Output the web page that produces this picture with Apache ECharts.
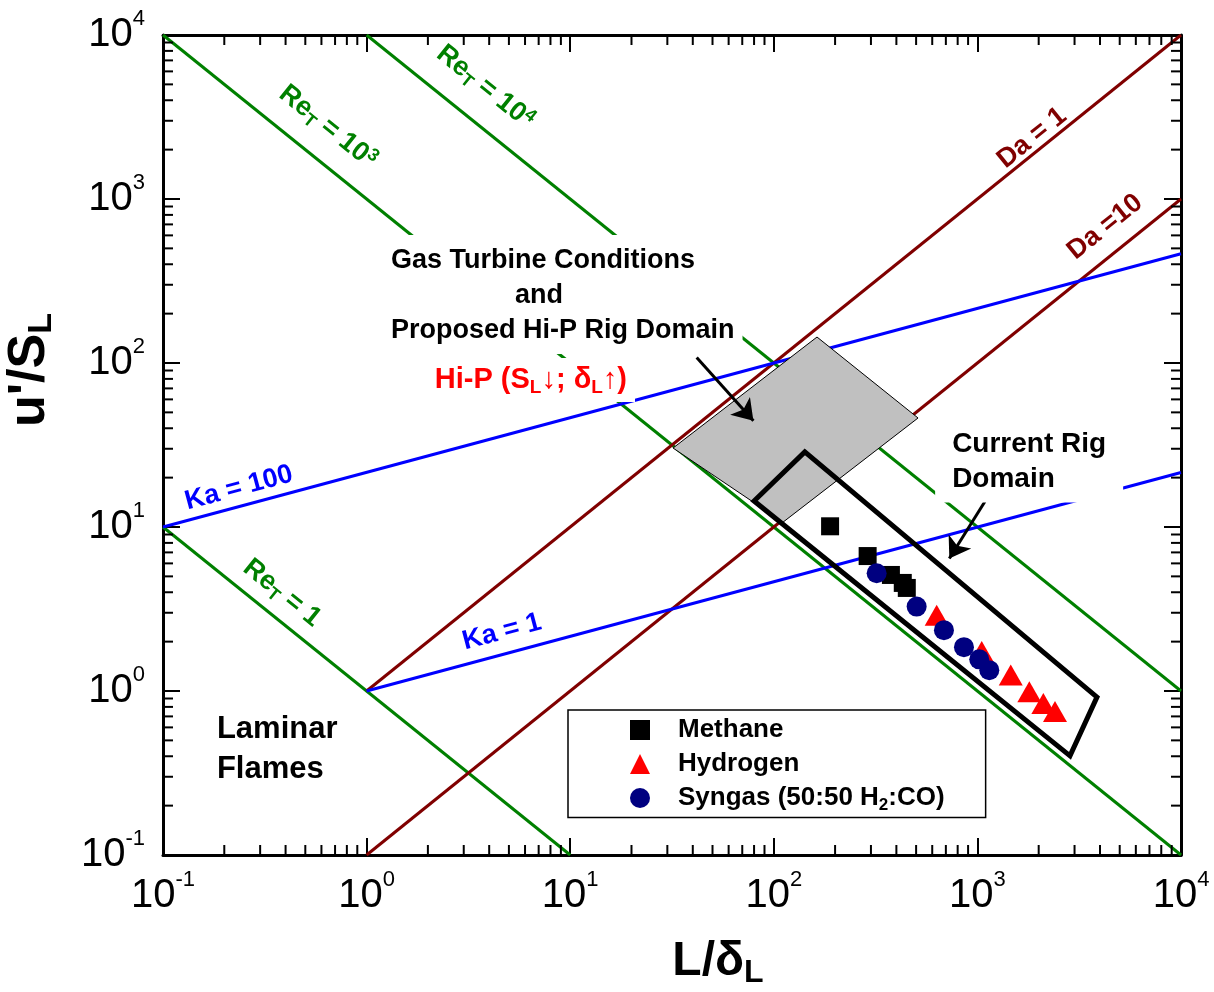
<!DOCTYPE html>
<html>
<head>
<meta charset="utf-8">
<title>Turbulent combustion regime diagram</title>
<script src="https://cdn.jsdelivr.net/npm/echarts@6/dist/echarts.min.js"></script>
<style>
  html, body { margin: 0; padding: 0; background: #fff; }
  #chart { width: 1214px; height: 992px; }
</style>
</head>
<body>
<div id="chart"></div>
<script>
// ---- data -------------------------------------------------------------
// axis decades (L/deltaL and u'/SL)
const xDecades = [0.1, 1, 10, 100, 1000, 10000];
const yDecades = [0.1, 1, 10, 100, 1000, 10000];
const minorSteps = [2, 3, 4, 5, 6, 7, 8, 9];

// regime boundaries, endpoints as [L/deltaL, u'/SL]
const reT1   = [[0.1, 10],  [10, 0.1]];
const reT1e3 = [[0.1, 10000], [10000, 0.1]];
const reT1e4 = [[1, 10000], [10000, 1]];
const da1    = [[1, 1],     [10000, 10000]];
const da10   = [[1, 0.1],   [10000, 1000]];
const ka100  = [[0.1, 10],  [10000, 464]];
const ka1    = [[1, 1],     [10000, 21.5]];

// operating domains (polygon vertices)
const gasTurbineDomain = [[32, 30.3], [163, 144], [511, 46.2], [111, 10.7]];
const currentRigDomain = [[80, 14.4], [142, 28.7], [3866, 0.918], [2850, 0.402]];

// measured flames
const methane  = [[189, 10.1], [289, 6.65], [376, 5.1], [430, 4.56], [450, 4.25]];
const hydrogen = [[631, 2.90], [1050, 1.74], [1458, 1.25], [1799, 0.99], [2108, 0.84], [2405, 0.75]];
const syngas   = [[320, 5.22], [503, 3.27], [685, 2.35], [859, 1.85], [1021, 1.56], [1144, 1.34]];

// pointer arrows [from, to]
const arrows = [
  [[41.8, 108], [79.4, 44.5]],
  [[1089, 14.3], [728, 6.43]]
];

// ---- styling ----------------------------------------------------------
const FONT = '"Liberation Sans", Arial, "DejaVu Sans", sans-serif';
const GREEN = '#008000', BROWN = '#800000', BLUE = '#0000ff';

const minorX = xDecades.slice(0, -1).flatMap(d => minorSteps.map(m => [m * d, 1]));
const minorY = yDecades.slice(0, -1).flatMap(d => minorSteps.map(m => [1, m * d]));

function powLabel(v) {
  const e = Math.round(Math.log10(v));
  return '{m|10}{p|' + e + '}';
}
const tickRich = {
  m: { fontFamily: FONT, fontSize: 40, color: '#000', lineHeight: 44 },
  p: { fontFamily: FONT, fontSize: 22, color: '#000', padding: [0, 0, 32, 0] }
};

function frameAxis(extra) {
  return Object.assign({
    type: 'log', logBase: 10, min: 0.1, max: 10000,
    axisLine: { show: true, onZero: false, lineStyle: { color: '#000', width: 3 } },
    axisTick: { show: true, inside: true, length: 17, lineStyle: { color: '#000', width: 2 } },
    splitLine: { show: false },
    minorTick: { show: false },
    minorSplitLine: { show: false }
  }, extra);
}

function boundary(name, data, color) {
  return {
    name, type: 'line', data, symbol: 'none', silent: true, z: 2,
    lineStyle: { color, width: 3 }, clip: true
  };
}

function minorTickSeries(name, data, horizontal) {
  return {
    name, type: 'custom', data, z: 20, silent: true, clip: false,
    renderItem(params, api) {
      const cs = params.coordSys;
      const p = api.coord([api.value(0), api.value(1)]);
      const st = { stroke: '#000', lineWidth: 2 };
      if (horizontal) {
        const x = p[0];
        return { type: 'group', children: [
          { type: 'line', shape: { x1: x, y1: cs.y + cs.height, x2: x, y2: cs.y + cs.height - 10 }, style: st },
          { type: 'line', shape: { x1: x, y1: cs.y, x2: x, y2: cs.y + 10 }, style: st }
        ] };
      }
      const y = p[1];
      return { type: 'group', children: [
        { type: 'line', shape: { x1: cs.x, y1: y, x2: cs.x + 10, y2: y }, style: st },
        { type: 'line', shape: { x1: cs.x + cs.width, y1: y, x2: cs.x + cs.width - 10, y2: y }, style: st }
      ] };
    }
  };
}

function domainSeries(name, verts, style) {
  return {
    name, type: 'custom', data: verts, z: 3, silent: true, clip: false,
    renderItem(params, api) {
      if (params.dataIndex !== 0) return null;
      return { type: 'polygon', shape: { points: verts.map(v => api.coord(v)) }, style };
    }
  };
}

function nameRich(fs, lead) {
  const m = { fontFamily: FONT, fontSize: fs, fontWeight: 'bold', color: '#000', lineHeight: fs + 4 };
  return {
    m,
    f: Object.assign({}, m, { padding: [0, 0, 0, lead] }),
    s: { fontFamily: FONT, fontSize: Math.round(fs * 0.66), fontWeight: 'bold', color: '#000',
         padding: [Math.round(fs * 0.46), 0, 0, 0] }
  };
}

const option = {
  animation: false,
  backgroundColor: '#fff',
  grid: { left: 163, top: 35, right: 33, bottom: 137, containLabel: false, outerBoundsMode: 'none' },
  xAxis: [
    frameAxis({
      position: 'bottom',
      axisLabel: { formatter: powLabel, rich: tickRich, margin: 14 },
      name: '{f|L/δ}{s|L}', nameLocation: 'middle', nameGap: 80, nameMoveOverlap: false,
      nameTextStyle: { rich: nameRich(48, 92) }
    }),
    frameAxis({ position: 'top', axisLabel: { show: false } })
  ],
  yAxis: [
    frameAxis({
      position: 'left',
      axisLabel: { formatter: powLabel, rich: tickRich, margin: 18 },
      name: "{f|u'/S}{s|L}", nameLocation: 'middle', nameGap: 104, nameRotate: 90, nameMoveOverlap: false,
      nameTextStyle: { rich: nameRich(52, 150) }
    }),
    frameAxis({ position: 'right', axisLabel: { show: false } })
  ],
  legend: {
    data: ['Methane', 'Hydrogen', 'Syngas (50:50 H2:CO)'],
    orient: 'vertical', left: 568, top: 710,
    padding: [7, 41, 4, 62],
    itemWidth: 20, itemHeight: 20, itemGap: 8,
    backgroundColor: '#fff', borderColor: '#000', borderWidth: 1.5, borderRadius: 0,
    selectedMode: false,
    formatter(name) {
      if (name.startsWith('Syngas')) return '{f|Syngas (50:50 H}{s|2}{m|:CO)}';
      return '{f|' + name + '}';
    },
    textStyle: {
      fontFamily: FONT, fontSize: 26, fontWeight: 'bold', color: '#000',
      rich: {
        f: { fontFamily: FONT, fontSize: 26, fontWeight: 'bold', color: '#000', lineHeight: 26, padding: [0, 0, 0, 23] },
        m: { fontFamily: FONT, fontSize: 26, fontWeight: 'bold', color: '#000', lineHeight: 26 },
        s: { fontFamily: FONT, fontSize: 17, fontWeight: 'bold', color: '#000', padding: [14, 0, 0, 0] }
      }
    }
  },
  series: [
    boundary('ReT=1', reT1, GREEN),
    boundary('ReT=1e3', reT1e3, GREEN),
    boundary('ReT=1e4', reT1e4, GREEN),
    boundary('Da=1', da1, BROWN),
    boundary('Da=10', da10, BROWN),
    boundary('Ka=100', ka100, BLUE),
    boundary('Ka=1', ka1, BLUE),
    domainSeries('Gas turbine domain', gasTurbineDomain, { fill: '#c0c0c0', stroke: '#000', lineWidth: 1 }),
    domainSeries('Current rig domain', currentRigDomain, { fill: 'none', stroke: '#000', lineWidth: 5, lineJoin: 'miter' }),
    {
      name: 'pointers', type: 'lines', coordinateSystem: 'cartesian2d', z: 6, silent: true,
      data: arrows.map(a => ({ coords: a })),
      symbol: ['none', 'arrow'], symbolSize: 20,
      lineStyle: { color: '#000', width: 3, opacity: 1, curveness: 0 }
    },
    { name: 'Methane', type: 'scatter', data: methane, symbol: 'rect', symbolSize: 18,
      itemStyle: { color: '#000', opacity: 1 }, z: 7 },
    { name: 'Hydrogen', type: 'scatter', data: hydrogen, symbol: 'triangle', symbolSize: [24, 21],
      itemStyle: { color: '#ff0000', opacity: 1 }, z: 7 },
    { name: 'Syngas (50:50 H2:CO)', type: 'scatter', data: syngas, symbol: 'circle', symbolSize: 20,
      itemStyle: { color: '#000080', opacity: 1 }, z: 7 },
    minorTickSeries('xMinor', minorX, true),
    minorTickSeries('yMinor', minorY, false)
  ]
};

const chart = echarts.init(document.getElementById('chart'));
chart.setOption(option);

// ---- annotations ------------------------------------------------------
const toPx = p => chart.convertToPixel({ xAxisIndex: 0, yAxisIndex: 0 }, p);
function angleOf(seg) {
  const a = toPx(seg[0]), b = toPx(seg[1]);
  return Math.atan2(-(b[1] - a[1]), b[0] - a[0]);
}
function rich(color, fs, lh) {
  const sub = Math.round(fs * 0.65);
  const lineHeight = lh || Math.round(fs * 1.25);
  return {
    m: { fill: color, fontSize: fs, fontWeight: 'bold', fontFamily: FONT, lineHeight },
    s: { fill: color, fontSize: sub, fontWeight: 'bold', fontFamily: FONT, padding: [Math.round(fs * 0.5), 0, 0, 0] },
    p: { fill: color, fontSize: sub, fontWeight: 'bold', fontFamily: FONT, padding: [0, 0, Math.round(fs * 0.45), 0] },
    n: { fill: color, fontSize: fs, fontWeight: 'normal', fontFamily: FONT, lineHeight },
    a: { fill: color, fontSize: fs, fontWeight: 'bold', fontFamily: FONT, lineHeight, padding: [0, 0, 0, 124] }
  };
}

const lineLabels = [
  { at: [0.645, 2750], line: reT1e3, color: GREEN, text: '{m|Re}{s|T}{m| = 10}{p|3}' },
  { at: [3.82, 4820],  line: reT1e4, color: GREEN, text: '{m|Re}{s|T}{m| = 10}{p|4}' },
  { at: [0.384, 3.96], line: reT1,   color: GREEN, text: '{m|Re}{s|T}{m| = 1}' },
  { at: [0.236, 17.3], line: ka100,  color: BLUE,  text: '{m|Ka = 100}' },
  { at: [4.62, 2.29],  line: ka1,    color: BLUE,  text: '{m|Ka = 1}' },
  { at: [1854, 2355],  line: da1,    color: BROWN, text: '{m|Da = 1}' },
  { at: [4236, 675],   line: da10,   color: BROWN, text: '{m|Da =10}' }
];

const graphics = lineLabels.map(l => {
  const p = toPx(l.at);
  return {
    type: 'text', x: p[0], y: p[1], rotation: angleOf(l.line), z: 50, silent: true,
    style: { text: l.text, rich: rich(l.color, 27), align: 'center', verticalAlign: 'middle' }
  };
});

// block annotations with optional white backing box
const blocks = [
  { at: [1.204, 262], text: '{m|Gas Turbine Conditions}\n{a|and}\n{m|Proposed Hi-P Rig Domain}',
    color: '#000', fs: 27, lh: 35, align: 'left', pad: [8, 8, 6, 8] },
  { at: [6.41, 78.8], text: '{m|Hi-P (S}{s|L}{n|↓}{m|; δ}{s|L}{n|↑}{m|)}',
    color: '#ff0000', fs: 29, lh: 36, align: 'center', pad: [4, 8, 4, 8] },
  { at: [620, 24.4], text: '{m|Current Rig}\n{m|Domain}',
    color: '#000', fs: 28, lh: 35, align: 'left', pad: [2, 17, 6, 17] },
  { at: [0.184, 0.443], text: '{m|Laminar}\n{m|Flames}',
    color: '#000', fs: 31, lh: 40, align: 'left', pad: null }
];
blocks.forEach(b => {
  const p = toPx(b.at);
  const style = { text: b.text, rich: rich(b.color, b.fs, b.lh), align: b.align, verticalAlign: 'middle' };
  if (b.pad) { style.backgroundColor = '#fff'; style.padding = b.pad; }
  graphics.push({ type: 'text', x: p[0], y: p[1], z: 50, silent: true, style });
});

chart.setOption({ graphic: graphics });
</script>
</body>
</html>
